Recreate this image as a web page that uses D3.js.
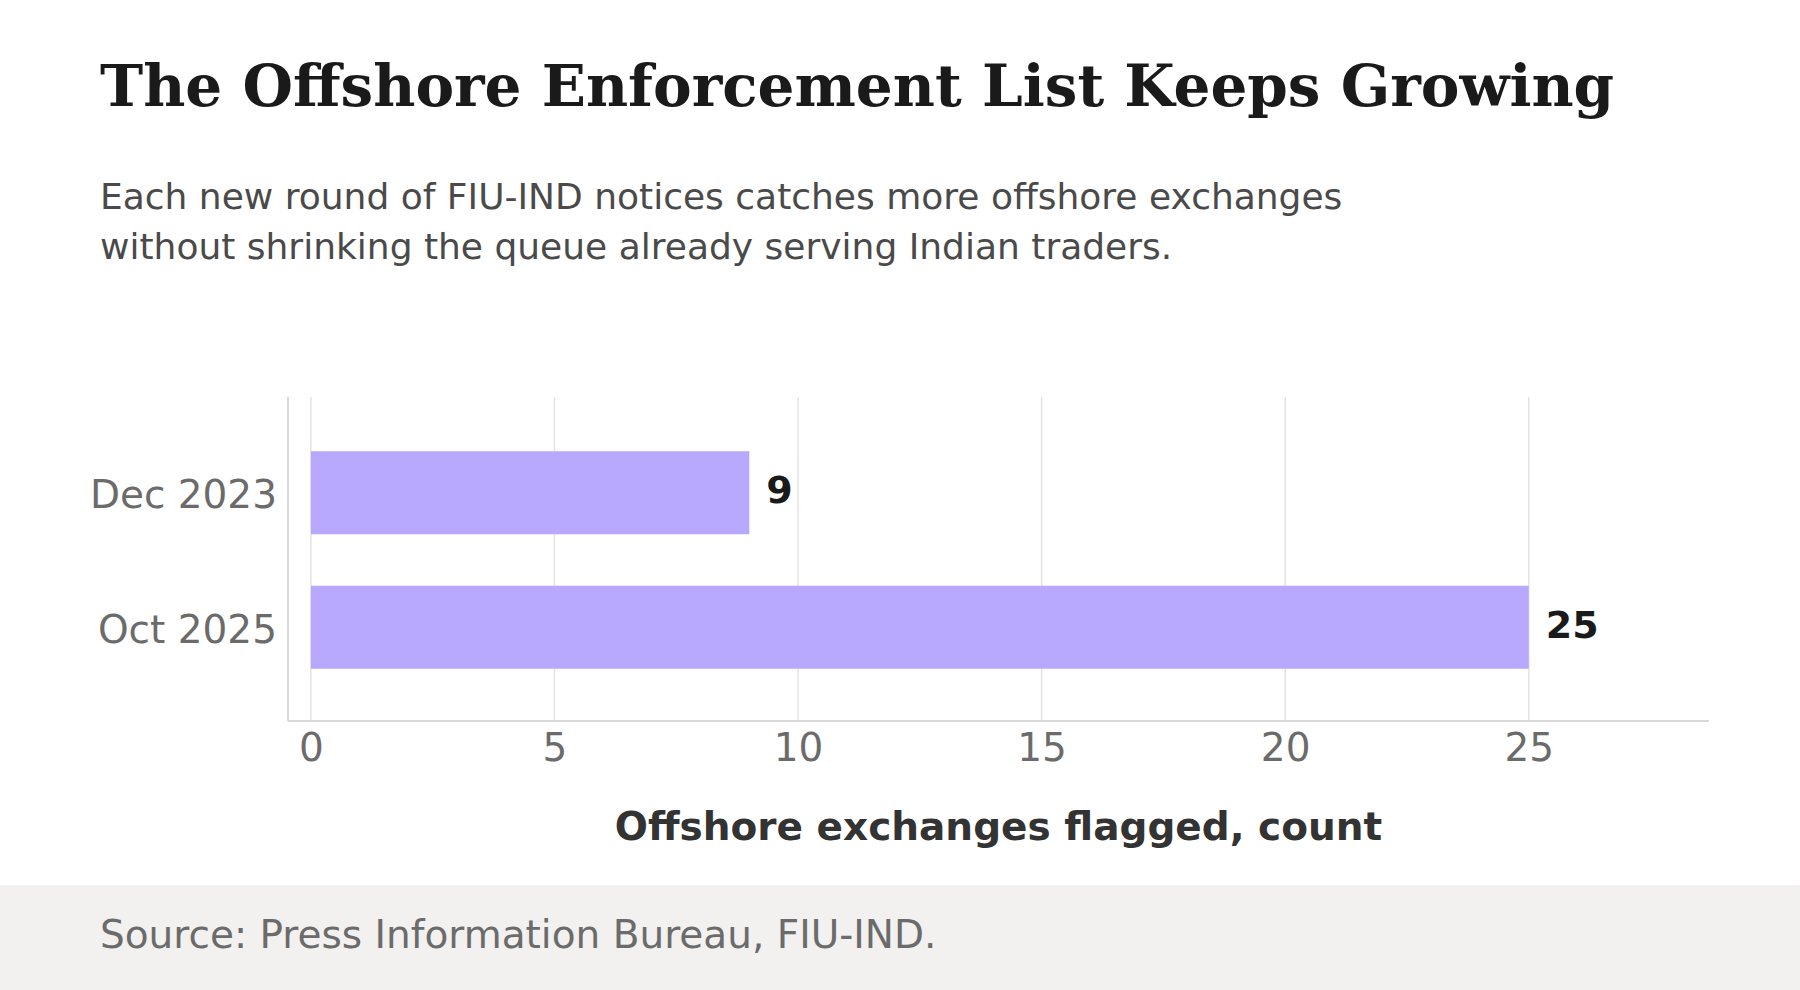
<!DOCTYPE html>
<html>
<head>
  <meta charset="utf-8">
  <script src="https://cdn.jsdelivr.net/npm/d3@7"></script>
  <style>
    html, body { margin: 0; padding: 0; background: #ffffff; }
    svg { display: block; }
  </style>
</head>
<body>
  <script>
    // chart data
    var periods = ["Dec 2023", "Oct 2025"];
    var flagged = [9, 25];
    var xTicks = [0, 5, 10, 15, 20, 25];

    var titleText = "The Offshore Enforcement List Keeps Growing";
    var subtitleLines = [
      "Each new round of FIU-IND notices catches more offshore exchanges",
      "without shrinking the queue already serving Indian traders."
    ];
    var xTitle = "Offshore exchanges flagged, count";
    var sourceText = "Source: Press Information Bureau, FIU-IND.";

    var width = 1800, height = 990;
    var sans = "'DejaVu Sans', sans-serif";

    var svg = d3.select("body").append("svg")
      .attr("width", width)
      .attr("height", height);

    // title + subtitle
    svg.append("text")
      .attr("x", 100).attr("y", 106)
      .style("font-family", "'DejaVu Serif', serif")
      .style("font-weight", "bold")
      .style("font-size", "58px")
      .style("fill", "#1a1a1a")
      .text(titleText);

    svg.selectAll("text.sub")
      .data(subtitleLines)
      .enter().append("text")
      .attr("class", "sub")
      .attr("x", 100)
      .attr("y", function (d, i) { return 209 + i * 50; })
      .style("font-family", sans)
      .style("font-size", "36px")
      .style("fill", "#4a4a4a")
      .text(function (d) { return d; });

    // plot area (avoid "top" - clashes with window.top)
    var plotL = 288, plotR = 1709, plotT = 397, plotB = 721;

    var x = d3.scaleLinear().domain([-0.47, 28.7]).range([plotL, plotR]);
    var y = d3.scaleBand().domain(periods).range([plotT + 1, plotB + 1])
      .paddingInner(0.383).paddingOuter(0.396);

    // gridlines
    svg.append("g")
      .selectAll("line")
      .data(xTicks)
      .enter().append("line")
      .attr("x1", function (d) { return x(d); })
      .attr("x2", function (d) { return x(d); })
      .attr("y1", plotT).attr("y2", plotB)
      .style("stroke", "#e3e3e3")
      .style("stroke-width", 1.5);

    // bars
    svg.append("g")
      .selectAll("rect")
      .data(periods)
      .enter().append("rect")
      .attr("x", x(0))
      .attr("y", function (d) { return y(d); })
      .attr("width", function (d, i) { return x(flagged[i]) - x(0); })
      .attr("height", y.bandwidth())
      .style("fill", "#b8a9fe");

    // value labels
    svg.append("g")
      .selectAll("text")
      .data(periods)
      .enter().append("text")
      .attr("x", function (d, i) { return x(flagged[i]) + 17; })
      .attr("y", function (d) { return y(d) + y.bandwidth() / 2 - 3; })
      .attr("dy", "0.35em")
      .style("font-family", sans)
      .style("font-weight", "bold")
      .style("font-size", "38px")
      .style("fill", "#1a1a1a")
      .text(function (d, i) { return flagged[i]; });

    // axes
    var xAxis = svg.append("g")
      .attr("transform", "translate(0," + plotB + ")")
      .call(d3.axisBottom(x).tickValues(xTicks).tickSize(0).tickPadding(12));
    xAxis.select(".domain").attr("d", "M" + plotL + ",0H" + plotR)
      .style("stroke", "#d9d9d9").style("stroke-width", 2);
    xAxis.selectAll("text")
      .style("font-family", sans)
      .style("font-size", "39px")
      .style("fill", "#6b6b6b");

    var yAxis = svg.append("g")
      .attr("transform", "translate(" + plotL + ",3)")
      .call(d3.axisLeft(y).tickSize(0).tickPadding(11));
    yAxis.select(".domain").attr("d", "M0," + (plotT - 3) + "V" + (plotB - 3))
      .style("stroke", "#d9d9d9").style("stroke-width", 2);
    yAxis.selectAll("text")
      .style("font-family", sans)
      .style("font-size", "39px")
      .style("fill", "#6b6b6b");

    // x axis title
    svg.append("text")
      .attr("x", (plotL + plotR) / 2)
      .attr("y", 840)
      .attr("text-anchor", "middle")
      .style("font-family", sans)
      .style("font-weight", "bold")
      .style("font-size", "39px")
      .style("fill", "#333333")
      .text(xTitle);

    // footer
    svg.append("rect")
      .attr("x", 0).attr("y", 885)
      .attr("width", width).attr("height", height - 885)
      .style("fill", "#f2f1ef");

    svg.append("text")
      .attr("x", 100).attr("y", 948)
      .style("font-family", sans)
      .style("font-size", "39px")
      .style("fill", "#6b6b6b")
      .text(sourceText);
  </script>
</body>
</html>
